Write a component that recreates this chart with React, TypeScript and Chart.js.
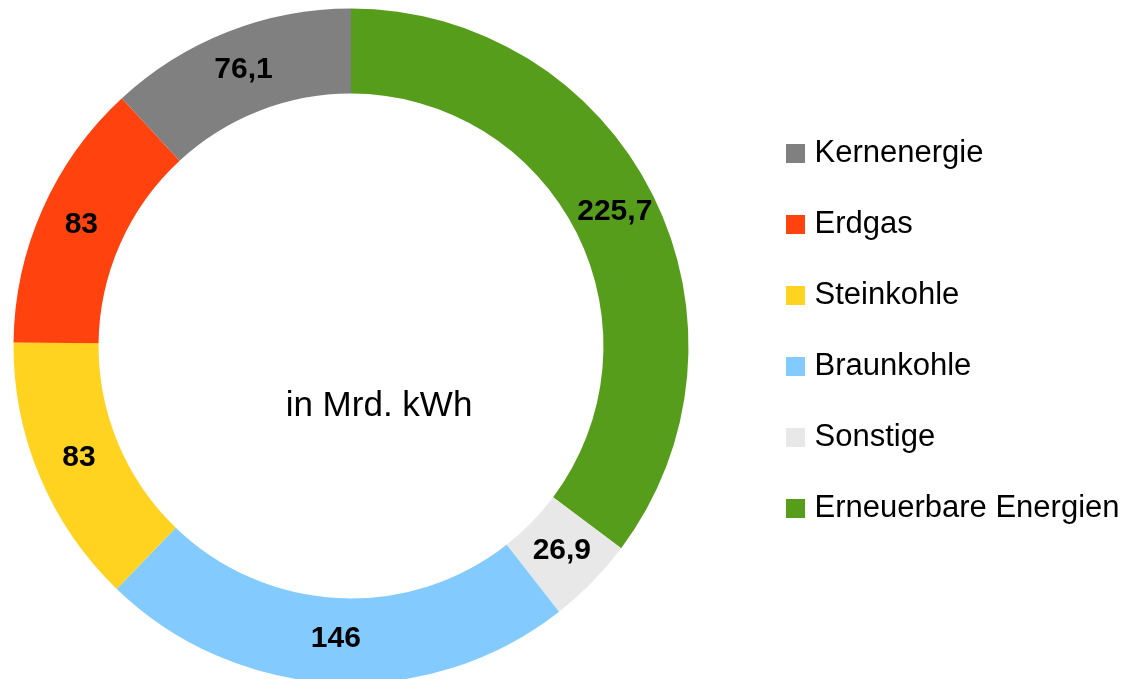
import React, { useEffect, useRef } from 'react';
import { Chart, registerables, DoughnutController } from 'chart.js';

Chart.register(...registerables);

// Legend order (as shown in the reference legend)
const categories = ['Kernenergie', 'Erdgas', 'Steinkohle', 'Braunkohle', 'Sonstige', 'Erneuerbare Energien'];
const values = [76.1, 83, 83, 146, 26.9, 225.7];
const colors = ['#808080', '#ff420e', '#ffd320', '#83caff', '#e8e8e8', '#579d1c'];
const centerLabel = 'in Mrd. kWh';

const FONT = '"Liberation Sans", Arial, sans-serif';
const CX = 351;
const CY = 346;
const R = 337.5;
const LEGEND_LEFT = 752;

const fmt = (v: number) => String(v).replace('.', ',');

// The reference runs counter-clockwise in legend order, so draw reversed clockwise
const drawLabels = [...categories].reverse();
const drawValues = [...values].reverse();
const drawColors = [...colors].reverse();

const placePlugin = {
  id: 'place',
  afterLayout(chart: any) {
    chart.chartArea = {
      left: CX - R,
      top: CY - R,
      right: CX + R,
      bottom: CY + R,
      width: 2 * R,
      height: 2 * R,
    };
    const lg = chart.legend;
    if (lg) {
      const w = lg.right - lg.left;
      lg.left = LEGEND_LEFT;
      lg.right = LEGEND_LEFT + w;
    }
  },
};

const valueLabelPlugin = {
  id: 'valueLabels',
  afterDatasetsDraw(chart: any) {
    const ctx = chart.ctx;
    const meta = chart.getDatasetMeta(0);
    const data = chart.data.datasets[0].data as number[];
    ctx.save();
    ctx.font = `bold 30px ${FONT}`;
    ctx.fillStyle = '#000';
    ctx.textAlign = 'center';
    ctx.textBaseline = 'middle';
    meta.data.forEach((arc: any, i: number) => {
      const p = arc.tooltipPosition(false);
      ctx.fillText(fmt(data[i]), p.x, p.y - 2);
    });
    ctx.restore();
  },
};

const centerTextPlugin = {
  id: 'centerText',
  afterDraw(chart: any) {
    const meta = chart.getDatasetMeta(0);
    const arc = meta.data[0];
    if (!arc) return;
    const ctx = chart.ctx;
    ctx.save();
    ctx.font = `35px ${FONT}`;
    ctx.fillStyle = '#000';
    ctx.textAlign = 'center';
    ctx.textBaseline = 'alphabetic';
    ctx.fillText(centerLabel, arc.x + 28, arc.y + 70);
    ctx.restore();
  },
};

export default function App() {
  const canvasRef = useRef<HTMLCanvasElement | null>(null);

  useEffect(() => {
    if (!canvasRef.current) return;
    const baseGen = (DoughnutController as any).overrides.plugins.legend.labels.generateLabels;
    const chart = new Chart(canvasRef.current, {
      type: 'doughnut',
      data: {
        labels: drawLabels,
        datasets: [
          {
            data: drawValues,
            backgroundColor: drawColors,
            borderWidth: 0,
            hoverOffset: 0,
          },
        ],
      },
      options: {
        animation: false,
        responsive: true,
        maintainAspectRatio: false,
        devicePixelRatio: 1,
        events: [],
        cutout: '74.8%',
        rotation: 0,
        layout: { padding: { top: 0, bottom: 17, left: 0, right: 0 } },
        plugins: {
          tooltip: { enabled: false },
          legend: {
            position: 'right',
            align: 'center',
            labels: {
              boxWidth: 7,
              boxHeight: 7,
              padding: 40,
              color: '#000',
              font: { family: FONT, size: 31 },
              sort: (a: any, b: any) => b.index - a.index,
              generateLabels: (c: any) =>
                baseGen(c).map((l: any) => ({ ...l, lineWidth: 12, strokeStyle: l.fillStyle })),
            },
          },
        },
      } as any,
      plugins: [placePlugin, valueLabelPlugin, centerTextPlugin],
    });
    return () => chart.destroy();
  }, []);

  return (
    <div style={{ position: 'absolute', left: 0, top: 0, width: 1142, height: 679, background: '#fff' }}>
      <canvas ref={canvasRef} />
    </div>
  );
}
